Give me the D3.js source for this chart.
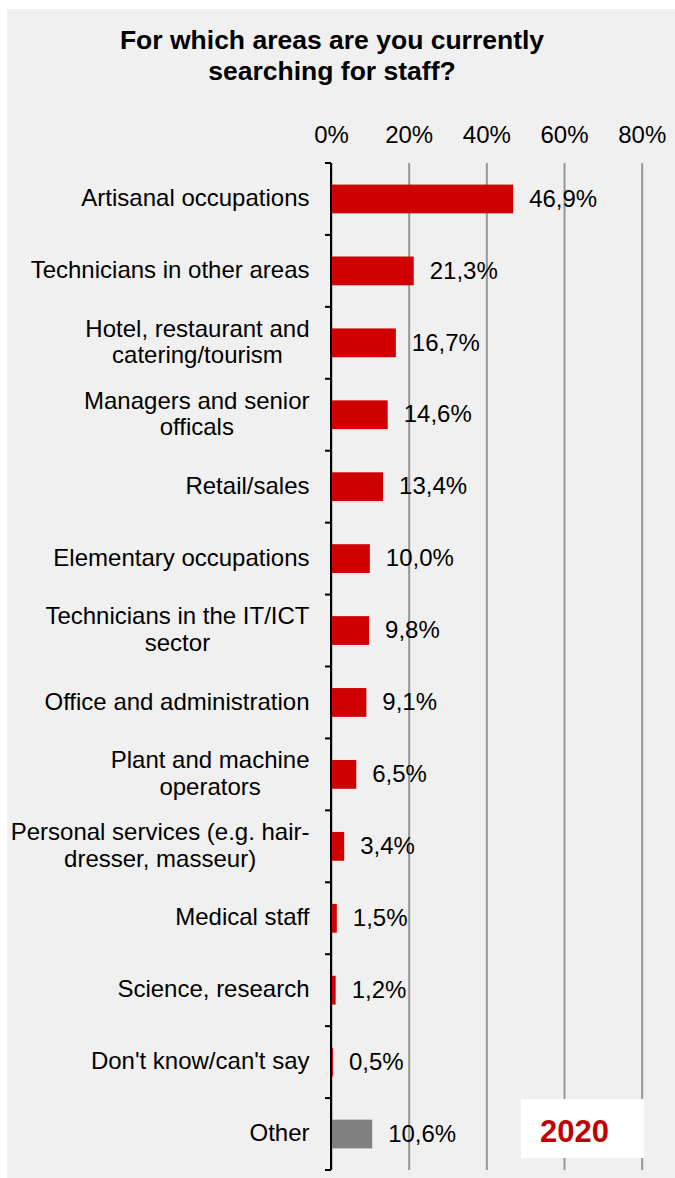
<!DOCTYPE html>
<html>
<head>
<meta charset="utf-8">
<script src="https://cdn.jsdelivr.net/npm/d3@7"></script>
<style>
  body { margin: 0; background: #ffffff; }
  svg { display: block; }
  text { font-family: "Liberation Sans", Arial, Helvetica, sans-serif; }
</style>
</head>
<body>
<svg id="chart" width="675" height="1178"></svg>
<script>
// Survey answers: share of companies searching for staff, by occupational area
const titleLines = ["For which areas are you currently", "searching for staff?"];
const categories = [
  "Artisanal occupations",
  "Technicians in other areas",
  "Hotel, restaurant and\ncatering/tourism",
  "Managers and senior\nofficals",
  "Retail/sales",
  "Elementary occupations",
  "Technicians in the IT/ICT\nsector",
  "Office and administration",
  "Plant and machine\noperators",
  "Personal services (e.g. hair-\ndresser, masseur)",
  "Medical staff",
  "Science, research",
  "Don't know/can't say",
  "Other"
];
const values = [46.9, 21.3, 16.7, 14.6, 13.4, 10.0, 9.8, 9.1, 6.5, 3.4, 1.5, 1.2, 0.5, 10.6];
const xTicks = [0, 20, 40, 60, 80];
const greyCategories = ["Other"];
const yearLabel = "2020";

const W = 675, H = 1178;
const svg = d3.select("#chart");

// panel background
svg.append("rect")
  .attr("x", 7).attr("y", 9)
  .attr("width", W - 7).attr("height", H - 9)
  .attr("fill", "#f0f0f0");

const plot = { left: 331, right: 641.7, top: 163, bottom: 1170 };

const x = d3.scaleLinear().domain([0, 80]).range([plot.left, plot.right]);
const y = d3.scaleBand()
  .domain(categories)
  .range([plot.top, plot.bottom])
  .paddingInner(0.6)
  .paddingOuter(0.3);

const locale = d3.formatLocale({ decimal: ",", thousands: ".", grouping: [3], currency: ["", "€"] });
const fmtValue = locale.format(".1f");

// title
const title = svg.append("text")
  .attr("text-anchor", "middle")
  .attr("font-weight", "bold")
  .attr("font-size", 26.5)
  .attr("fill", "#000");
titleLines.forEach((t, i) => {
  title.append("tspan").attr("x", 332).attr("y", 49.3 + i * 30.7).text(t);
});

// vertical gridlines + percentage tick labels on top
const gx = svg.append("g")
  .attr("transform", `translate(0,${plot.top})`)
  .call(d3.axisTop(x)
    .tickValues(xTicks)
    .tickFormat(d => d + "%")
    .tickSize(-(plot.bottom - plot.top))
    .tickPadding(20));
gx.select(".domain").remove();
gx.selectAll(".tick line")
  .attr("stroke", "#969696")
  .attr("stroke-width", 2);
gx.selectAll(".tick text")
  .attr("font-size", 24)
  .attr("font-family", "\"Liberation Sans\", Arial, sans-serif")
  .attr("fill", "#000");

// bars
svg.append("g").selectAll("rect")
  .data(categories)
  .join("rect")
  .attr("x", x(0))
  .attr("y", d => y(d))
  .attr("width", (d, i) => x(values[i]) - x(0))
  .attr("height", y.bandwidth())
  .attr("fill", d => greyCategories.includes(d) ? "#808080" : "#d00000");

// value labels
svg.append("g").selectAll("text")
  .data(categories)
  .join("text")
  .attr("x", (d, i) => x(values[i]) + 16)
  .attr("y", d => y(d) + y.bandwidth() / 2)
  .attr("dy", "0.32em")
  .attr("font-size", 24)
  .attr("fill", "#000")
  .text((d, i) => fmtValue(values[i]) + "%");

// category axis: line with ticks at the band boundaries
const yAxis = svg.append("g");
yAxis.append("line")
  .attr("x1", x(0)).attr("x2", x(0))
  .attr("y1", plot.top).attr("y2", plot.bottom)
  .attr("stroke", "#000").attr("stroke-width", 2);
const boundaries = d3.range(categories.length + 1).map(i => y.range()[0] + i * y.step());
yAxis.selectAll("line.tick")
  .data(boundaries)
  .join("line")
  .attr("class", "tick")
  .attr("x1", x(0) - 6).attr("x2", x(0))
  .attr("y1", d => d).attr("y2", d => d)
  .attr("stroke", "#000").attr("stroke-width", 2);

// category labels: block right-aligned, lines centred within the block
const labelRight = x(0) - 21.5;
const lineH = 26.7;
const labelG = svg.append("g");
categories.forEach(c => {
  const lines = c.split("\n");
  const cy = y(c) + y.bandwidth() / 2;
  const texts = lines.map((t, i) => labelG.append("text")
    .attr("font-size", 24)
    .attr("fill", "#000")
    .attr("text-anchor", "middle")
    .attr("y", cy + (i - (lines.length - 1) / 2) * lineH)
    .attr("dy", "0.3em")
    .text(t));
  const maxW = d3.max(texts, t => t.node().getComputedTextLength());
  texts.forEach(t => t.attr("x", labelRight - maxW / 2));
});

// year badge
svg.append("rect")
  .attr("x", 521).attr("y", 1099)
  .attr("width", 123).attr("height", 59)
  .attr("fill", "#ffffff");
svg.append("text")
  .attr("x", 540).attr("y", 1142)
  .attr("font-size", 31)
  .attr("font-weight", "bold")
  .attr("fill", "#c00000")
  .text(yearLabel);
</script>
</body>
</html>
